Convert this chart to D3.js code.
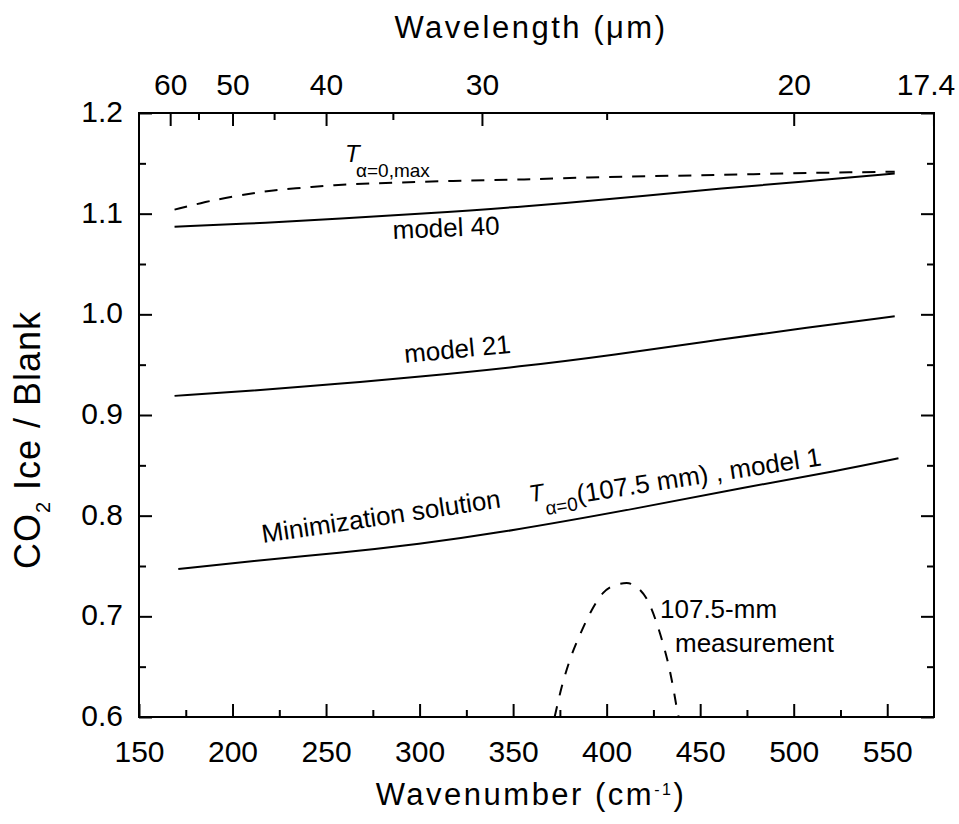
<!DOCTYPE html>
<html>
<head>
<meta charset="utf-8">
<script src="https://cdn.jsdelivr.net/npm/d3@7"></script>
<style>
  body { margin: 0; background: #fff; }
  svg { display: block; }
  text { font-family: "Liberation Sans", Arial, Helvetica, sans-serif; fill: #000; }
</style>
</head>
<body>
<svg id="chart" width="959" height="824"></svg>
<script>
// Axis ticks
const wavenumberMajor = [150, 200, 250, 300, 350, 400, 450, 500, 550];
const wavenumberMinor = [175, 225, 275, 325, 375, 425, 475, 525];
const wavelengthMajor = [60, 50, 40, 30, 20, 17.4];
const wavelengthMinor = [55, 45, 35, 25];
const ratioMajor = [0.6, 0.7, 0.8, 0.9, 1.0, 1.1, 1.2];
const ratioMinor = [0.65, 0.75, 0.85, 0.95, 1.05, 1.15];

// T(alpha=0, max) upper bound (dashed)
const tMaxWavenumber = [169, 186, 200, 213, 225, 240, 253, 275, 299, 338, 361, 389, 425, 461, 496, 532, 554];
const tMaxRatio = [1.104, 1.112, 1.117, 1.121, 1.124, 1.126, 1.1285, 1.130, 1.1317, 1.1334, 1.1341, 1.1361, 1.1374, 1.1384, 1.1401, 1.1411, 1.1417];

// model 40
const model40Wavenumber = [169, 220, 257, 300, 354, 425, 461, 500, 554];
const model40Ratio = [1.087, 1.091, 1.095, 1.100, 1.1065, 1.1185, 1.125, 1.131, 1.140];

// model 21
const model21Wavenumber = [169, 210, 257, 300, 354, 405, 453, 500, 554];
const model21Ratio = [0.919, 0.924, 0.931, 0.938, 0.948, 0.960, 0.973, 0.985, 0.998];

// minimization solution, model 1
const model1Wavenumber = [171, 210, 258, 300, 340, 419, 473, 525, 556];
const model1Ratio = [0.747, 0.755, 0.763, 0.772, 0.782, 0.808, 0.828, 0.845, 0.857];

// 107.5-mm measurement (dashed)
const measWavenumber = [372.2, 376.0, 380.4, 385.8, 392.0, 398.0, 404.5, 410.7, 416.8, 422.1, 426.8, 430.1, 432.8, 435.5, 437.5, 438.5];
const measRatio = [0.600, 0.630, 0.657, 0.682, 0.706, 0.723, 0.731, 0.733, 0.728, 0.715, 0.693, 0.673, 0.654, 0.630, 0.609, 0.600];

const svg = d3.select("#chart");
const plotLeft = 139, plotRight = 934, plotTop = 113, plotBottom = 717;

const x = d3.scaleLinear().domain([150, 575]).range([plotLeft, plotRight]);
const y = d3.scaleLinear().domain([0.6, 1.2]).range([plotBottom, plotTop]);

const stroke = 2;
const tickFont = 30;

function styleAxis(g) {
  g.select(".domain").remove();
  g.selectAll(".tick line").attr("stroke", "#000").attr("stroke-width", stroke);
}

// bottom axis
svg.append("g").attr("transform", `translate(0,${plotBottom})`)
  .call(d3.axisBottom(x).tickValues(wavenumberMajor).tickSize(-13).tickSizeOuter(0))
  .call(styleAxis)
  .call(g => g.selectAll(".tick text").attr("y", 45).attr("dy", null)
    .attr("font-size", tickFont).attr("font-family", null).attr("fill", "#000"));
svg.append("g").attr("transform", `translate(0,${plotBottom})`)
  .call(d3.axisBottom(x).tickValues(wavenumberMinor).tickSize(-7).tickSizeOuter(0).tickFormat(""))
  .call(styleAxis);

// top axis: wavelength in micrometres = 10000 / wavenumber
svg.append("g").attr("transform", `translate(0,${plotTop})`)
  .call(d3.axisTop(x).tickValues(wavelengthMajor.map(l => 1e4 / l))
    .tickFormat((d, i) => String(wavelengthMajor[i])).tickSize(-13).tickSizeOuter(0))
  .call(styleAxis)
  .call(g => g.selectAll(".tick text").attr("y", -18).attr("dy", null)
    .attr("dx", d => d > 570 ? -8 : 0)
    .attr("font-size", tickFont).attr("font-family", null).attr("fill", "#000"));
svg.append("g").attr("transform", `translate(0,${plotTop})`)
  .call(d3.axisTop(x).tickValues(wavelengthMinor.map(l => 1e4 / l)).tickSize(-7).tickSizeOuter(0).tickFormat(""))
  .call(styleAxis);

// left axis
svg.append("g").attr("transform", `translate(${plotLeft},0)`)
  .call(d3.axisLeft(y).tickValues(ratioMajor).tickFormat(d3.format(".1f")).tickSize(-13).tickSizeOuter(0))
  .call(styleAxis)
  .call(g => g.selectAll(".tick text").attr("x", -16).attr("dy", "0.28em")
    .attr("font-size", tickFont).attr("font-family", null).attr("fill", "#000"));
svg.append("g").attr("transform", `translate(${plotLeft},0)`)
  .call(d3.axisLeft(y).tickValues(ratioMinor).tickSize(-7).tickSizeOuter(0).tickFormat(""))
  .call(styleAxis);

// right axis
svg.append("g").attr("transform", `translate(${plotRight},0)`)
  .call(d3.axisRight(y).tickValues(ratioMajor).tickSize(-13).tickSizeOuter(0).tickFormat(""))
  .call(styleAxis);
svg.append("g").attr("transform", `translate(${plotRight},0)`)
  .call(d3.axisRight(y).tickValues(ratioMinor).tickSize(-7).tickSizeOuter(0).tickFormat(""))
  .call(styleAxis);

// frame
svg.append("rect")
  .attr("x", plotLeft).attr("y", plotTop)
  .attr("width", plotRight - plotLeft).attr("height", plotBottom - plotTop)
  .attr("fill", "none").attr("stroke", "#000").attr("stroke-width", stroke);

// clip for curves
svg.append("clipPath").attr("id", "plot-clip")
  .append("rect").attr("x", plotLeft).attr("y", plotTop)
  .attr("width", plotRight - plotLeft).attr("height", plotBottom - plotTop);

const smoothLine = d3.line()
  .x(d => x(d[0])).y(d => y(d[1]))
  .curve(d3.curveBasis);
const peakLine = d3.line()
  .x(d => x(d[0])).y(d => y(d[1]))
  .curve(d3.curveMonotoneX);

function drawCurve(wn, vals, gen, dash) {
  svg.append("path")
    .datum(d3.zip(wn, vals))
    .attr("clip-path", "url(#plot-clip)")
    .attr("fill", "none")
    .attr("stroke", "#000")
    .attr("stroke-width", 2)
    .attr("stroke-dasharray", dash || null)
    .attr("d", gen);
}

drawCurve(tMaxWavenumber, tMaxRatio, smoothLine, "13,10");
drawCurve(model40Wavenumber, model40Ratio, smoothLine);
drawCurve(model21Wavenumber, model21Ratio, smoothLine);
drawCurve(model1Wavenumber, model1Ratio, smoothLine);
drawCurve(measWavenumber, measRatio, peakLine, "11,11");

// axis titles
svg.append("text")
  .attr("x", 531).attr("y", 38)
  .attr("text-anchor", "middle")
  .attr("font-size", 31)
  .style("letter-spacing", "2.5px")
  .text("Wavelength (\u03bcm)");

const xTitle = svg.append("text")
  .attr("x", 531).attr("y", 805)
  .attr("text-anchor", "middle")
  .attr("font-size", 31)
  .style("letter-spacing", "2.5px");
xTitle.append("tspan").text("Wavenumber (cm");
xTitle.append("tspan").attr("font-size", 16).attr("dy", -10).text("-1");
xTitle.append("tspan").attr("dy", 10).text(")");

const yTitle = svg.append("text")
  .attr("transform", "translate(40,440) rotate(-90)")
  .attr("text-anchor", "middle")
  .attr("font-size", 36)
  .style("letter-spacing", "1px");
yTitle.append("tspan").text("CO");
yTitle.append("tspan").attr("font-size", 20).attr("dy", 10).text("2");
yTitle.append("tspan").attr("dy", -10).text(" Ice / Blank");

// curve labels
const tMaxLabel = svg.append("g");
tMaxLabel.append("text").attr("x", 345).attr("y", 162)
  .attr("font-size", 24).attr("font-style", "italic").text("T");
tMaxLabel.append("text").attr("x", 356).attr("y", 177)
  .attr("font-size", 19).text("\u03b1=0,max");

svg.append("text")
  .attr("transform", "translate(393,239) rotate(-2.5)")
  .attr("font-size", 26).text("model 40");

svg.append("text")
  .attr("transform", "translate(405,363) rotate(-5.5)")
  .attr("font-size", 26).text("model 21");

svg.append("text")
  .attr("transform", "translate(263,543) rotate(-8.5)")
  .attr("font-size", 26).text("Minimization solution");

const m1 = svg.append("g").attr("transform", "translate(578,503) rotate(-8.8)");
m1.append("text").attr("x", -47).attr("y", -8)
  .attr("font-size", 24).attr("font-style", "italic").text("T");
m1.append("text").attr("x", -33).attr("y", 7)
  .attr("font-size", 19).text("\u03b1=0");
m1.append("text").attr("x", 0).attr("y", 0)
  .attr("font-size", 26).text("(107.5 mm) , model 1");

svg.append("text").attr("x", 660).attr("y", 618)
  .attr("font-size", 26).text("107.5-mm");
svg.append("text").attr("x", 675).attr("y", 652)
  .attr("font-size", 26).text("measurement");
</script>
</body>
</html>
